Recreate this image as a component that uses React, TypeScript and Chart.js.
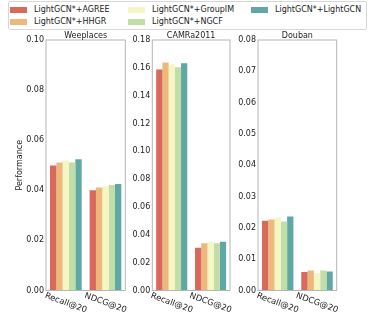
import React, { useEffect, useRef } from 'react';
import { Chart, registerables } from 'chart.js';
Chart.register(...registerables);

const metrics = ['Recall@20', 'NDCG@20'];
const methods = ['LightGCN*+AGREE', 'LightGCN*+HHGR', 'LightGCN*+GroupIM', 'LightGCN*+NGCF', 'LightGCN*+LightGCN'];
const colors = ['#d8695b', '#ecb97c', '#f6f5c4', '#c2dea7', '#5fa8a6'];

// values per method (order as in methods)
const weeplacesRecall = [0.0499, 0.0511, 0.0519, 0.0511, 0.0524];
const weeplacesNdcg = [0.0400, 0.0411, 0.0416, 0.0421, 0.0425];
const camraRecall = [0.1588, 0.1638, 0.1624, 0.1605, 0.1633];
const camraNdcg = [0.0307, 0.0340, 0.0350, 0.0340, 0.0350];
const doubanRecall = [0.0223, 0.0227, 0.0233, 0.0220, 0.0236];
const doubanNdcg = [0.0059, 0.0064, 0.0056, 0.0064, 0.0061];

const titles = ['Weeplaces', 'CAMRa2011', 'Douban'];
const yMax = [0.10, 0.18, 0.08];
const yStep = [0.02, 0.02, 0.01];

const FONT = '"DejaVu Sans", sans-serif';
const TEXT = '#222';

type Panel = {
  title: string;
  recall: number[];
  ndcg: number[];
  max: number;
  step: number;
  left: number;
  width: number;
  yWidth: number;
  padRight: number;
  yTitle?: string;
};

const panels: Panel[] = [
  { title: titles[0], recall: weeplacesRecall, ndcg: weeplacesNdcg, max: yMax[0], step: yStep[0], left: 0, width: 130, yWidth: 46, padRight: 4.7, yTitle: 'Performance' },
  { title: titles[1], recall: camraRecall, ndcg: camraNdcg, max: yMax[1], step: yStep[1], left: 128, width: 106, yWidth: 24.3, padRight: 4 },
  { title: titles[2], recall: doubanRecall, ndcg: doubanNdcg, max: yMax[2], step: yStep[2], left: 234, width: 110, yWidth: 24, padRight: 7.3 },
];

const H = 327;

const framePlugin = {
  id: 'frameAndLabels',
  afterDraw(chart: any) {
    const { ctx, chartArea: a } = chart;
    ctx.save();
    ctx.strokeStyle = '#b5b5b5';
    ctx.lineWidth = 1;
    ctx.strokeRect(a.left, a.top, a.right - a.left, a.bottom - a.top);
    const xs = chart.scales.x;
    ctx.fillStyle = TEXT;
    ctx.font = `8.4px ${FONT}`;
    ctx.textAlign = 'center';
    ctx.textBaseline = 'middle';
    metrics.forEach((m, i) => {
      const x = xs.getPixelForTick(i);
      ctx.save();
      ctx.translate(x, a.bottom + 12.5);
      ctx.rotate((20 * Math.PI) / 180);
      ctx.fillText(m, 0, 0);
      ctx.restore();
    });
    const t = chart.options.plugins.panelTitle?.text;
    if (t) {
      ctx.font = `8px ${FONT}`;
      ctx.textBaseline = 'alphabetic';
      ctx.fillText(t, (a.left + a.right) / 2, a.top - 2.5);
    }
    ctx.restore();
  },
};

function PanelChart({ p }: { p: Panel }) {
  const ref = useRef<HTMLCanvasElement>(null);
  useEffect(() => {
    if (!ref.current) return;
    const chart = new Chart(ref.current, {
      type: 'bar',
      data: {
        labels: metrics,
        datasets: methods.map((m, i) => ({
          label: m,
          data: [p.recall[i], p.ndcg[i]],
          backgroundColor: colors[i],
          borderWidth: 0,
          categoryPercentage: 0.8,
          barPercentage: 1.0,
        })),
      },
      options: {
        responsive: false,
        animation: false,
        devicePixelRatio: 1,
        layout: { padding: { left: 0, right: p.padRight, top: 40, bottom: 36.5 } },
        plugins: {
          legend: { display: false },
          tooltip: { enabled: false },
          title: { display: false },
          panelTitle: { text: p.title },
        } as any,
        scales: {
          x: {
            type: 'category',
            offset: true,
            grid: { display: false, drawTicks: false },
            border: { display: false },
            ticks: { display: false },
            afterFit: (s: any) => { s.height = 0; },
          },
          y: {
            min: 0,
            max: p.max,
            grid: { display: false, drawTicks: false },
            border: { display: false },
            ticks: {
              stepSize: p.step,
              padding: 2,
              color: TEXT,
              font: { family: FONT, size: 8 },
              callback: (v: any) => Number(v).toFixed(2),
            },
            title: {
              display: !!p.yTitle,
              text: p.yTitle || '',
              color: TEXT,
              font: { family: FONT, size: 8 },
              padding: { top: 15.2, bottom: 0 },
            },
            afterFit: (s: any) => { s.width = p.yWidth; },
          },
        },
      },
      plugins: [framePlugin],
    });
    return () => chart.destroy();
  }, [p]);
  return (
    <canvas
      ref={ref}
      width={p.width}
      height={H}
      style={{ position: 'absolute', left: p.left, top: 0, width: p.width, height: H }}
    />
  );
}

const legendItems = [
  { idx: 0, x: 10, y: 10 },
  { idx: 1, x: 10, y: 22 },
  { idx: 2, x: 128, y: 10 },
  { idx: 3, x: 128, y: 22 },
  { idx: 4, x: 251, y: 10 },
];

export default function App() {
  return (
    <div style={{ position: 'absolute', left: 0, top: 0, width: 374, height: 327, background: '#fff', fontFamily: FONT }}>
      {panels.map((p) => (
        <PanelChart key={p.title} p={p} />
      ))}
      <div
        style={{
          position: 'absolute', left: 7.5, top: 1, width: 359, height: 29,
          border: '1px solid #d6d6d6', borderRadius: 2, boxSizing: 'border-box', background: '#fff',
        }}
      />
      {legendItems.map((it) => (
        <React.Fragment key={it.idx}>
          <div style={{ position: 'absolute', left: it.x, top: it.y - 3, width: 17, height: 6, background: colors[it.idx] }} />
          <div style={{ position: 'absolute', left: it.x + 24, top: it.y - 6, height: 12, lineHeight: '12px', fontSize: 8, color: TEXT, whiteSpace: 'nowrap' }}>
            {methods[it.idx]}
          </div>
        </React.Fragment>
      ))}
    </div>
  );
}
